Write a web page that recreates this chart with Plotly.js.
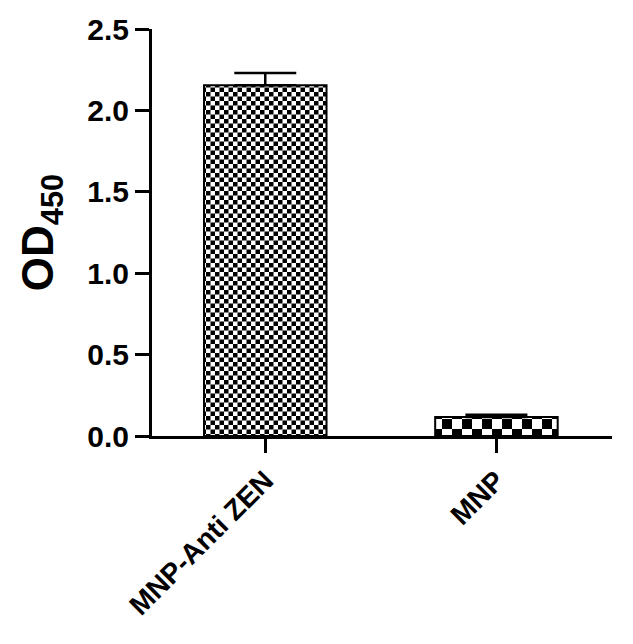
<!DOCTYPE html>
<html>
<head>
<meta charset="utf-8">
<script src="https://cdn.plot.ly/plotly-3.0.1.min.js"></script>
<style>
  html, body { margin: 0; padding: 0; background: #fff; }
  #chart { width: 633px; height: 644px; }
</style>
</head>
<body>
<div id="chart"></div>
<script>
// ---- data ----
var categories = ["MNP-Anti ZEN", "MNP"];
var odValues = [2.155, 0.117];
var errUpper = [0.075, 0.013];
var yTickValues = [0, 0.5, 1.0, 1.5, 2.0, 2.5];
var yTickLabels = ["0.0", "0.5", "1.0", "1.5", "2.0", "2.5"];

// ---- styles ----
var checkerSizes = [9, 20];
var boldFont = { family: "Liberation Sans, Arial, sans-serif", color: "#000", weight: "bold" };

var trace = {
  type: "bar",
  x: categories,
  y: odValues,
  width: 0.53,
  marker: {
    color: "#ffffff",
    line: { color: "#000", width: 2 },
    pattern: { shape: ".", fgcolor: "#000", bgcolor: "#fff", size: checkerSizes, solidity: 0.5 }
  },
  error_y: {
    type: "data",
    symmetric: false,
    array: errUpper,
    arrayminus: [0, 0],
    color: "#000",
    thickness: 2.5,
    width: 31
  },
  hoverinfo: "skip"
};

var layout = {
  width: 633,
  height: 644,
  margin: { l: 152, r: 21, t: 29, b: 208 },
  paper_bgcolor: "#fff",
  plot_bgcolor: "#fff",
  showlegend: false,
  xaxis: {
    type: "category",
    range: [-0.49, 1.5],
    showline: true,
    linecolor: "#000",
    linewidth: 3,
    ticks: "outside",
    ticklen: 14,
    tickwidth: 3,
    tickcolor: "#000",
    tickangle: -45,
    tickfont: Object.assign({ size: 28 }, boldFont),
    showgrid: false,
    zeroline: false
  },
  yaxis: {
    range: [0, 2.5],
    tickmode: "array",
    tickvals: yTickValues,
    ticktext: yTickLabels,
    showline: true,
    linecolor: "#000",
    linewidth: 3,
    ticks: "outside",
    ticklen: 14,
    tickwidth: 3,
    tickcolor: "#000",
    tickfont: Object.assign({ size: 30 }, boldFont),
    showgrid: false,
    zeroline: false,
    title: {
      text: "OD<sub>450</sub>",
      font: Object.assign({ size: 44 }, boldFont),
      standoff: 20
    }
  }
};

Plotly.newPlot("chart", [trace], layout, { displayModeBar: false, staticPlot: true }).then(function (gd) {
  // Turn Plotly's fill patterns into checkerboards (same tile size Plotly assigned)
  var ns = "http://www.w3.org/2000/svg";
  var pats = gd.querySelectorAll("pattern");
  pats.forEach(function (p) {
    var w = parseFloat(p.getAttribute("width"));
    var h = parseFloat(p.getAttribute("height"));
    while (p.firstChild) p.removeChild(p.firstChild);
    var bg = document.createElementNS(ns, "rect");
    bg.setAttribute("x", 0); bg.setAttribute("y", 0);
    bg.setAttribute("width", w); bg.setAttribute("height", h);
    bg.setAttribute("fill", "#fff");
    p.appendChild(bg);
    [[0, 0], [w / 2, h / 2]].forEach(function (o) {
      var r = document.createElementNS(ns, "rect");
      r.setAttribute("x", o[0]); r.setAttribute("y", o[1]);
      r.setAttribute("width", w / 2); r.setAttribute("height", h / 2);
      r.setAttribute("fill", "#000");
      p.appendChild(r);
    });
  });
});
</script>
</body>
</html>
